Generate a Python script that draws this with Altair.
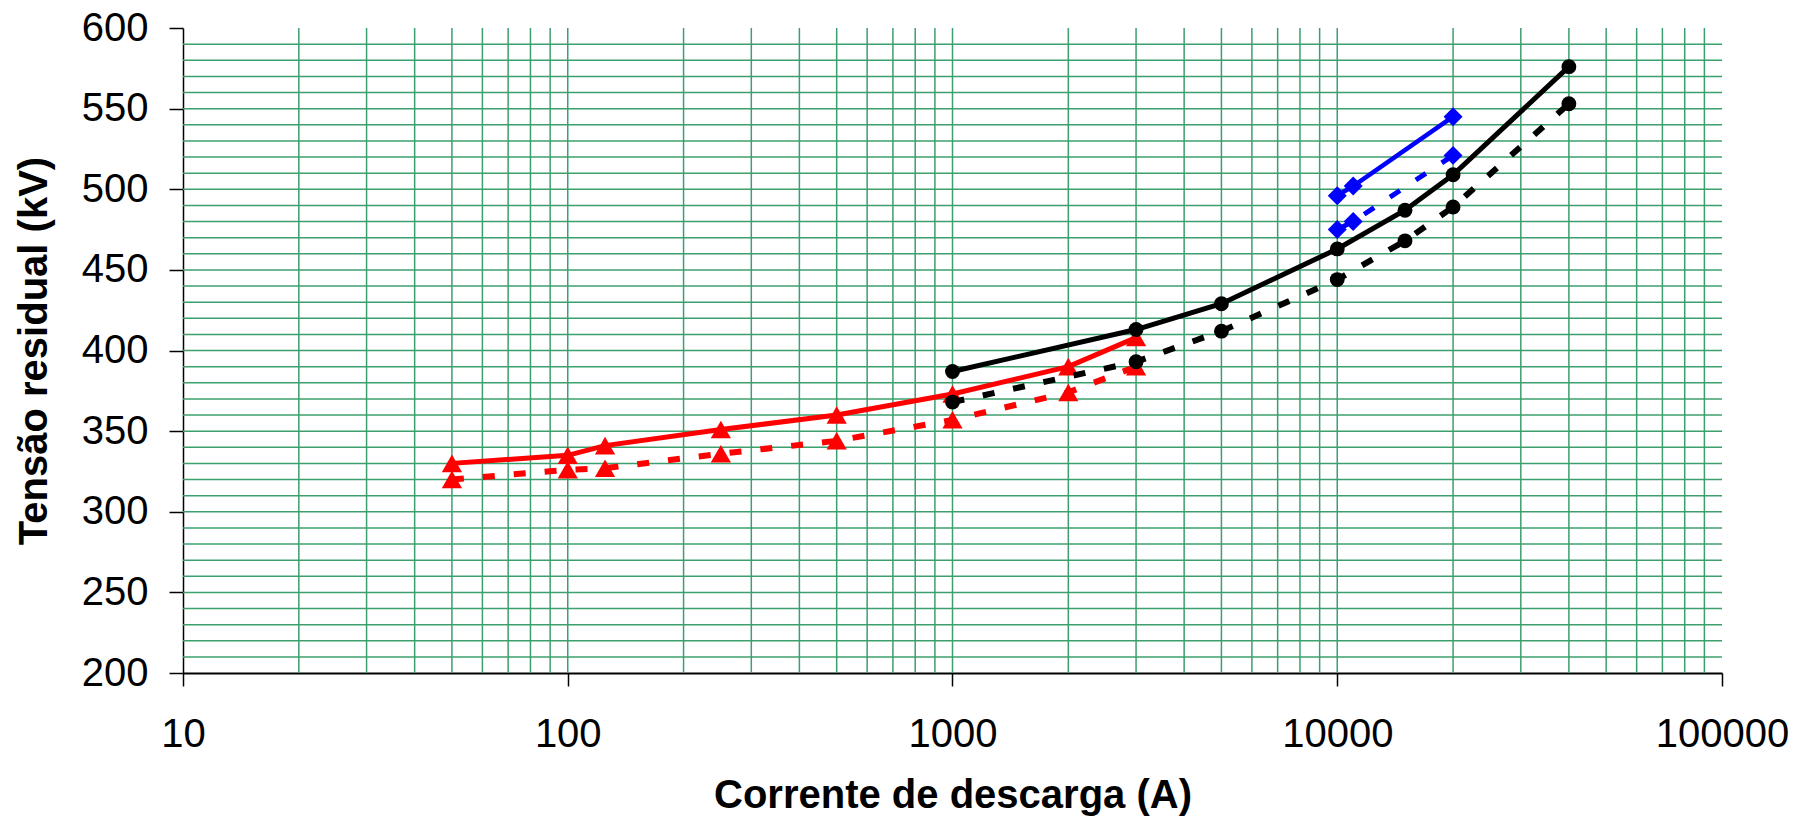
import altair as alt
import pandas as pd

# ---- data ----
corrente_vermelho = [50, 100, 125, 250, 500, 1000, 2000, 3000]
tensao_vermelho_cont = [330, 335, 341, 351, 360, 373, 390, 408]
tensao_vermelho_trac = [320, 326, 327, 336, 344, 357, 374, 390]

corrente_preto = [1000, 3000, 5000, 10000, 15000, 20000, 40000]
tensao_preto_cont = [387, 413, 429, 463, 487, 509, 576]
tensao_preto_trac = [368, 393, 412, 444, 468, 489, 553]

corrente_azul = [10000, 11000, 20000]
tensao_azul_cont = [496, 502, 545]
tensao_azul_trac = [475, 480, 521]

x_ticks = [10, 100, 1000, 10000, 100000]
y_ticks = [200, 250, 300, 350, 400, 450, 500, 550, 600]
x_grid = [m * 10 ** e for e in (1, 2, 3, 4) for m in range(2, 10)] + [100, 1000, 10000]
y_grid = list(range(210, 600, 10))

FONT = "Liberation Sans"
GRID = "#3c9f6e"

W, H = 1539, 645

x_scale = alt.Scale(type="log", domain=[10, 100000], nice=False)
y_scale = alt.Scale(domain=[200, 600], nice=False, zero=False)

x_axis = alt.Axis(
    values=x_ticks, format="d", grid=False,
    tickSize=13, tickColor="black", tickWidth=1.5,
    domainColor="black", domainWidth=2,
    labelFont=FONT, labelFontSize=40, labelColor="black",
    labelPadding=28, labelFlush=False, labelOverlap=False,
    title="Corrente de descarga (A)", titleFont=FONT, titleFontSize=40,
    titleFontWeight="bold", titleColor="black",
    titleX=W / 2, titleY=134, titleAlign="center", titleBaseline="alphabetic",
)
y_axis = alt.Axis(
    values=y_ticks, grid=False,
    tickSize=14, tickColor="black", tickWidth=1.5,
    domainColor="black", domainWidth=1.5,
    labelFont=FONT, labelFontSize=40, labelColor="black",
    labelPadding=21, labelFlush=False, labelOverlap=False,
    title="Tensão residual (kV)", titleFont=FONT, titleFontSize=40,
    titleFontWeight="bold", titleColor="black",
    titleX=-137, titleY=H / 2, titleAngle=270, titleAlign="center",
    titleBaseline="alphabetic",
)

X = alt.X("corrente:Q", scale=x_scale, axis=x_axis)
Y = alt.Y("tensao:Q", scale=y_scale, axis=y_axis)

grid_h = alt.Chart(pd.DataFrame({"tensao": y_grid})).mark_rule(
    color=GRID, strokeWidth=1.5
).encode(y=Y)
grid_v = alt.Chart(pd.DataFrame({"corrente": x_grid})).mark_rule(
    color=GRID, strokeWidth=1.5
).encode(x=X)

DASH = [12, 19]


def serie(xs, ys, color, shape, size, width, dash=None):
    df = pd.DataFrame({"corrente": xs, "tensao": ys})
    base = alt.Chart(df)
    line_kw = dict(color=color, strokeWidth=width, strokeCap="butt", clip=False)
    if dash:
        line_kw["strokeDash"] = dash
    line = base.mark_line(**line_kw).encode(x=X, y=Y)
    pts = base.mark_point(
        shape=shape, filled=True, size=size, color=color, opacity=1, strokeWidth=0
    ).encode(x=X, y=Y)
    return [line, pts]


layers = [grid_h, grid_v]
layers += serie(corrente_vermelho, tensao_vermelho_cont, "#ff0000", "triangle-up", 410, 5)
layers += serie(corrente_vermelho, tensao_vermelho_trac, "#ff0000", "triangle-up", 410, 6, DASH)
layers += serie(corrente_preto, tensao_preto_cont, "#000000", "circle", 220, 5)
layers += serie(corrente_preto, tensao_preto_trac, "#000000", "circle", 220, 6, DASH)
layers += serie(corrente_azul, tensao_azul_cont, "#0000ff", "diamond", 360, 4.5)
layers += serie(corrente_azul, tensao_azul_trac, "#0000ff", "diamond", 360, 5, DASH)

chart = (
    alt.layer(*layers)
    .properties(
        width=W, height=H,
        autosize=alt.AutoSizeParams(type="none"),
        padding={"left": 175, "top": 20, "right": 74, "bottom": 144},
        background="white",
    )
    .configure_view(stroke=None)
)

chart.save("out.html", embed_options={"renderer": "svg", "actions": False})
